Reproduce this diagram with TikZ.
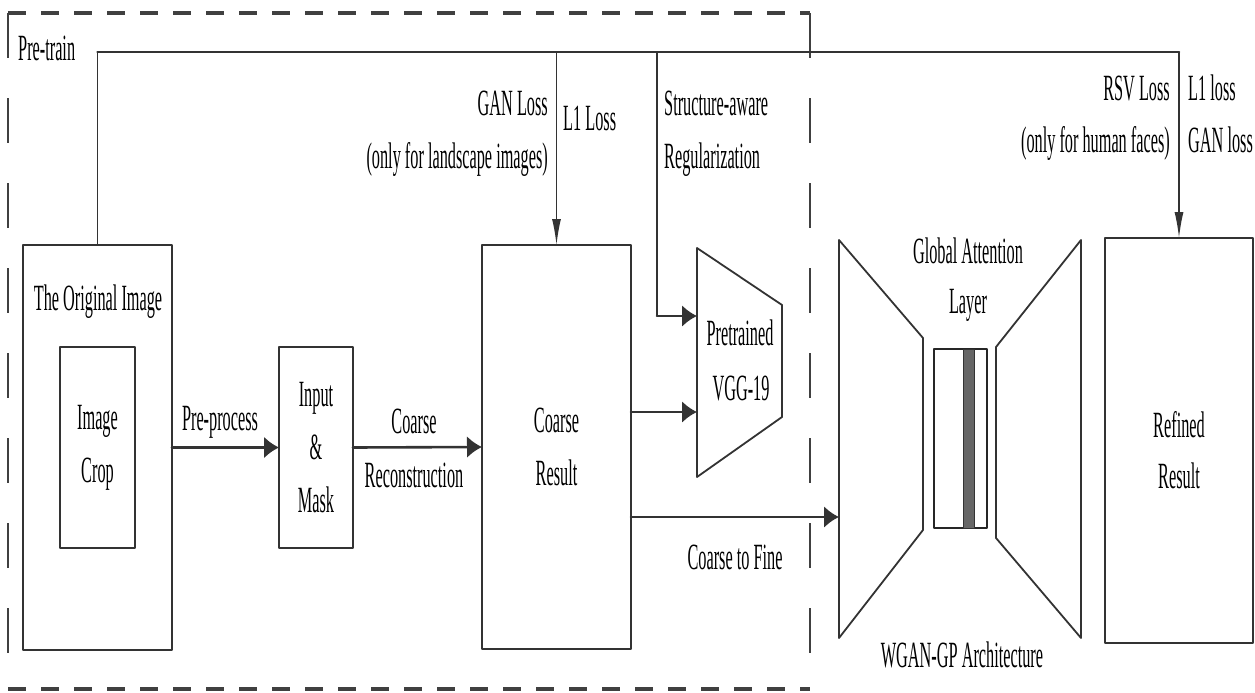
\documentclass[tikz,border=0pt]{standalone}
\usepackage{fontspec}
\setmainfont{Liberation Serif}[FakeStretch=0.44]
\usetikzlibrary{arrows.meta}

\begin{document}
\begin{tikzpicture}[
    x=1pt,
    y=-1pt,
    line cap=round,
    line join=round,
    font=\fontsize{37}{53}\selectfont,
    box/.style={draw=black!80,line width=1.8pt,inner sep=0pt,outer sep=0pt,align=center},
    txt/.style={inner sep=0pt,align=center},
    hline/.style={draw=black!80,line width=2.6pt},
    vline/.style={draw=black!80,line width=1.4pt},
    harrow/.style={hline,-{Latex[length=15pt,width=22pt]}},
    varrow/.style={vline,-{Latex[length=26pt,width=9pt]}},
    hdash/.style={draw=black!75,line width=3.5pt,line cap=butt,dash pattern=on 18pt off 15pt},
    vdash/.style={draw=black!75,line width=2pt,line cap=butt,dash pattern=on 45pt off 40pt}
]

\useasboundingbox (0,0) rectangle (1255,693);

% =========================================================
% Pre-train frame
% =========================================================

\draw[hdash] (8,13)  -- (810,13);
\draw[hdash] (8,689) -- (810,689);
\draw[vdash] (8,13)  -- (8,689);
\draw[vdash] (810,13) -- (810,689);

\node[txt,anchor=base west] (pretrain) at (18,60) {Pre-train};

% =========================================================
% Boxes
% =========================================================

\node[box,minimum width=149pt,minimum height=405pt] (orig) at (97.5,447.5) {};
\node[txt,anchor=base] (origtxt) at (98,310) {The Original Image};
\node[box,minimum width=75pt,minimum height=201pt] (crop) at (97.5,447.5) {Image\\Crop};

\node[box,minimum width=74pt,minimum height=201pt] (inmask) at (316,447.5) {Input\\\&\\Mask};

\node[box,minimum width=149pt,minimum height=404pt] (coarse) at (556.5,447) {Coarse\\Result};

\node[box,minimum width=148pt,minimum height=405pt] (refined) at (1179,440.5) {};
\node[txt,anchor=base] (refinedtxt) at (1179,437) {Refined};
\node[txt,anchor=base] (resulttxt) at (1179,488) {Result};

% =========================================================
% Pretrained VGG-19
% =========================================================

\coordinate (vggA) at (697,248);
\coordinate (vggB) at (782,305);
\coordinate (vggC) at (782,417);
\coordinate (vggD) at (697,477);
\coordinate (vggin1) at (697,316);
\coordinate (vggin2) at (697,412);

\draw[box] (vggA)--(vggB)--(vggC)--(vggD)--cycle;
\node[txt,anchor=base] (pretr) at (740,345) {Pretrained};
\node[txt,anchor=base] (vgglbl) at (741,400) {VGG-19};

% =========================================================
% WGAN-GP
% =========================================================

\coordinate (wganin) at (839,517);

\draw[box] (839,240)--(923,338)--(923,530)--(839,638)--cycle;
\draw[box] (1081,240)--(996,347)--(996,538)--(1081,638)--cycle;

\node[draw=black!85,line width=1.4pt,inner sep=0pt,minimum width=53pt,minimum height=179pt] (attn) at (960.5,438.5) {};
\node[fill=black!60,draw=black!80,line width=0.8pt,inner sep=0pt,minimum width=11pt,minimum height=179pt] (attnbar) at (968.5,438.5) {};

\node[txt,anchor=base] (glob) at (968,263) {Global Attention};
\node[txt,anchor=base] (layer) at (968,313) {Layer};
\node[txt,anchor=base] (wgan) at (962,667) {WGAN-GP Architecture};

% =========================================================
% Main flow
% =========================================================

\draw[harrow] (orig.east) -- (inmask.west);
\node[txt,anchor=base] (preproc) at (220,430) {Pre-process};

\draw[harrow] (inmask.east) -- (coarse.west);
\node[txt,anchor=base] (coarselbl) at (414,433) {Coarse};
\node[txt,anchor=base] (reconlbl) at (414,487) {Reconstruction};

\draw[harrow] (coarse.east |- vggin2) -- (vggin2);
\draw[harrow] (coarse.east |- wganin) -- (wganin);
\node[txt,anchor=base] (c2f) at (735,569) {Coarse to Fine};

% =========================================================
% Losses
% =========================================================

\coordinate (busy) at (0,52);
\coordinate (structx) at (657,52);

\draw[vline] (orig.north) -- (orig.north |- busy);
\draw[hline] (orig.north |- busy) -- (refined.north |- busy);

\draw[varrow] (coarse.north |- busy) -- (coarse.north);
\node[txt,anchor=base east] (ganloss) at (548,115) {GAN Loss};
\node[txt,anchor=base east] (ganonly) at (548,168) {(only for landscape images)};
\node[txt,anchor=base west] (lonel) at (563,130) {L1 Loss};

\draw[vline] (structx) -- (structx |- vggin1);
\draw[harrow] (structx |- vggin1) -- (vggin1);
\node[txt,anchor=base west] (structlbl) at (664,115) {Structure-aware};
\node[txt,anchor=base west] (reglbl) at (664,168) {Regularization};

\draw[varrow] (refined.north |- busy) -- (refined.north);
\node[txt,anchor=base east] (rsvlbl) at (1170,100) {RSV Loss};
\node[txt,anchor=base east] (facelbl) at (1170,152) {(only for human faces)};
\node[txt,anchor=base west] (lonelr) at (1188,100) {L1 loss};
\node[txt,anchor=base west] (ganlr) at (1188,152) {GAN loss};

\end{tikzpicture}
\end{document}
